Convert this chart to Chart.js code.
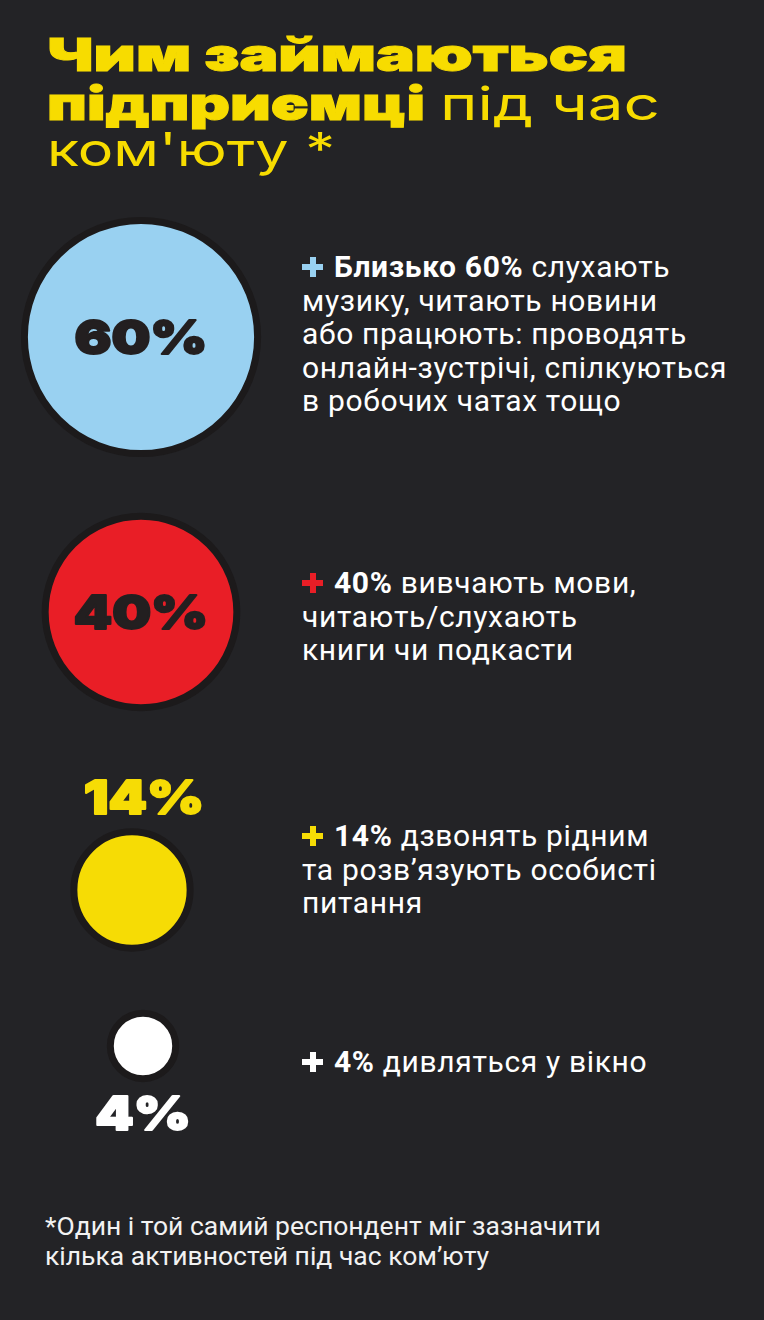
<!DOCTYPE html>
<html lang="uk">
<head>
<meta charset="utf-8">
<title>Чим займаються підприємці під час ком'юту</title>
<script src="https://cdn.jsdelivr.net/npm/chart.js@4.4.1/dist/chart.umd.min.js"></script>
<style>
  html, body { margin: 0; padding: 0; }
  body {
    width: 764px; height: 1320px; overflow: hidden; position: relative;
    background: #232326; font-family: Roboto, "Noto Sans", sans-serif;
  }
  .fit { position: absolute; white-space: nowrap; color: #f7dc00; font-family: Inter, "DejaVu Sans", sans-serif;
         font-size: 46px; line-height: 46px; transform-origin: 0 0; }
  .fit.b { font-weight: 900; -webkit-text-stroke: 1px #f7dc00; }
  .fit.l { font-weight: 400; }
  .desc { position: absolute; left: 302px; color: #ffffff; font-size: 30px; line-height: 33.5px;
          font-weight: 400; white-space: nowrap; }
  .desc b { font-weight: 700; }
  .cross { display: inline-block; width: 21px; height: 20px; margin-right: 11px; }
  .foot { position: absolute; left: 45px; top: 1211px; color: #f2f2f2; font-size: 26.5px; line-height: 30px; white-space: nowrap; }
  canvas.bub { position: absolute; }
</style>
</head>
<body>

<div class="fit b" style="left:47px;top:31px" data-w="580">Чим займаються</div>
<div class="fit b" style="left:47px;top:80px" data-w="378">підприємці</div>
<div class="fit l" style="left:440px;top:80px" data-w="220">під час</div>
<div class="fit l" style="left:47px;top:126px" data-w="288">ком'юту *</div>

<div id="rows"></div>

<div class="foot">*Один і той самий респондент міг зазначити<br>кілька активностей під час ком’юту</div>

<script>
"use strict";

// ===== DATA =====
const categories = ['Музика, новини, робота', 'Мови, книги, подкасти', 'Дзвінки рідним, особисті питання', 'Дивляться у вікно'];
const values = [60, 40, 14, 4];
const boldParts = ['Близько 60%', '40%', '14%', '4%'];
const descLines = [
    [' слухають', 'музику, читають новини', 'або працюють: проводять', 'онлайн-зустрічі, спілкуються', 'в робочих чатах тощо'],
    [' вивчають мови,', 'читають/слухають', 'книги чи подкасти'],
    [' дзвонять рідним', 'та розв’язують особисті', 'питання'],
    [' дивляться у вікно']
];

// ===== STYLE / LAYOUT =====
const fillColors = ['#99d1f1', '#e91e26', '#f6dc05', '#ffffff'];
const labelColors = ['#231f20', '#231f20', '#f6dc05', '#ffffff'];
const labelPlace = ['inside', 'inside', 'above', 'below'];
const labelShift = [0, 0, 12, 0];
const centerX = [141, 141, 132, 143];
const centerY = [337, 612, 890, 1046];
const textTop = [250, 566, 819, 1045];
const DESC_WIDEST = 425;      // width of the longest description line
const RING_COLOR = '#1c1a1b';
const RING_W = 7;
const AREA_K = 14.6;          // px of radius per sqrt(percent)
const LABEL_SIZE = 47;
const LABEL_FONT = '900 ' + LABEL_SIZE + 'px Inter, "DejaVu Sans", sans-serif';
const LABEL_CAP = LABEL_SIZE * 0.727;
const LABEL_GAP = 14;
const CANVAS_W = 282;
const CANVAS_H = 300;

function radiusFor(v) {
    // stroke is centered on the arc, so push it out by half the ring
    return AREA_K * Math.sqrt(v) + RING_W / 2;
}

let labelStretch = null;

const pctLabels = {
    id: 'pctLabels',
    afterDatasetsDraw(chart, args, opts) {
        const ctx = chart.ctx;
        const meta = chart.getDatasetMeta(0);
        ctx.save();
        ctx.font = LABEL_FONT;
        if (labelStretch === null) labelStretch = 133 / ctx.measureText('60%').width;
        ctx.fillStyle = opts.color;
        ctx.strokeStyle = opts.color;
        ctx.lineWidth = 2;
        ctx.lineJoin = 'round';
        ctx.textAlign = 'center';
        ctx.textBaseline = 'alphabetic';
        meta.data.forEach((pt, i) => {
            const r = chart.data.datasets[0].data[i].r + RING_W / 2;
            let cy = pt.y;
            if (opts.place === 'above') cy = pt.y - r - LABEL_GAP - LABEL_CAP / 2;
            if (opts.place === 'below') cy = pt.y + r + LABEL_GAP + LABEL_CAP / 2;
            ctx.save();
            ctx.translate(pt.x + opts.dx, cy + LABEL_CAP / 2);
            ctx.scale(labelStretch, 1);
            ctx.fillText(opts.text, 0, 0);
            ctx.strokeText(opts.text, 0, 0);
            ctx.restore();
        });
        ctx.restore();
    }
};

function fitTitle() {
    document.querySelectorAll('.fit').forEach(el => {
        const w = el.getBoundingClientRect().width;
        const target = Number(el.dataset.w);
        if (w > 0) el.style.transform = 'scaleX(' + (target / w) + ')';
    });
}

function crossBg(c) {
    return 'linear-gradient(' + c + ',' + c + ') center / 100% 6px no-repeat, ' +
           'linear-gradient(' + c + ',' + c + ') center / 6px 100% no-repeat';
}

function buildRows() {
    const host = document.getElementById('rows');
    const blocks = [];
    values.forEach((v, i) => {
        // description text
        const d = document.createElement('div');
        d.className = 'desc';
        d.style.top = textTop[i] + 'px';
        const lines = descLines[i];
        d.innerHTML = '<span class="cross" style="background:' + crossBg(fillColors[i]) + '"></span>' +
            '<b>' + boldParts[i] + '</b>' + lines[0] +
            lines.slice(1).map(l => '<br>' + l).join('');
        host.appendChild(d);
        blocks.push(d);

        // bubble
        const cv = document.createElement('canvas');
        cv.className = 'bub';
        cv.width = CANVAS_W;
        cv.height = CANVAS_H;
        cv.style.left = (centerX[i] - CANVAS_W / 2) + 'px';
        cv.style.top = (centerY[i] - CANVAS_H / 2) + 'px';
        host.appendChild(cv);

        new Chart(cv, {
            type: 'bubble',
            data: {
                labels: [categories[i]],
                datasets: [{
                    label: categories[i],
                    data: [{ x: 0, y: 0, r: radiusFor(v) }],
                    backgroundColor: fillColors[i],
                    borderColor: RING_COLOR,
                    borderWidth: RING_W,
                    clip: false
                }]
            },
            options: {
                responsive: false,
                animation: false,
                events: [],
                devicePixelRatio: 1,
                layout: { padding: 0, autoPadding: false },
                scales: {
                    x: { display: false, min: -1, max: 1 },
                    y: { display: false, min: -1, max: 1 }
                },
                plugins: {
                    legend: { display: false },
                    tooltip: { enabled: false },
                    pctLabels: { text: v + '%', color: labelColors[i], place: labelPlace[i], dx: labelShift[i] }
                }
            },
            plugins: [pctLabels]
        });
    });

    // stretch the text slightly with letter spacing so the widest line matches
    const w = blocks[0].getBoundingClientRect().width;
    const extra = (DESC_WIDEST - w) / 28;
    if (extra > 0) blocks.forEach(b => { b.style.letterSpacing = extra.toFixed(2) + 'px'; });
}

document.fonts.ready.then(() => {
    fitTitle();
    buildRows();
});
</script>
</body>
</html>
